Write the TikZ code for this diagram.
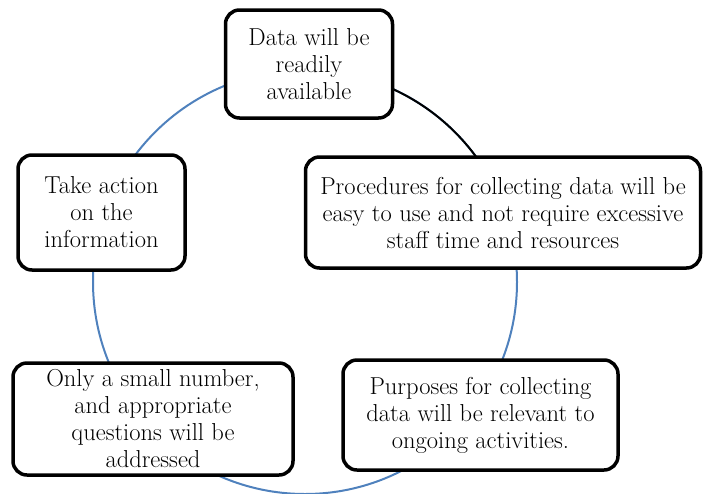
\documentclass[tikz,border=0pt]{standalone}
\usepackage{fontspec}
\definecolor{cycleblue}{HTML}{4F81BD}
\begin{document}
\begin{tikzpicture}[x=1pt,y=-1pt,
  stage/.style={draw=black, line width=3.5pt, rounded corners=14pt, fill=white,
    align=center, inner sep=0pt, font=\rmfamily\fontsize{24.5}{27}\selectfont},
  ring/.style={line width=2pt}]
\useasboundingbox (0,0) rectangle (706,493);
\coordinate (c) at (305,282);
\draw[ring, cycleblue] (c) circle (212pt);
\draw[ring, black] ([shift={(28:212pt)}]c) arc[start angle=28, end angle=74, radius=212pt];
\node[stage, minimum width=167pt, minimum height=108pt] (top) at (309,64) {Data will be\\readily\\available};
\node[stage, minimum width=167pt, minimum height=115pt] (left) at (101.5,212.5) {Take action\\on the\\information};
\node[stage, minimum width=395pt, minimum height=111pt] (right) at (503,212.5) {Procedures for collecting data will be\\easy to use and not require excessive\\staff time and resources};
\node[stage, minimum width=280pt, minimum height=112pt] (bl) at (153,419) {Only a small number,\\and appropriate\\questions will be\\addressed};
\node[stage, minimum width=275pt, minimum height=110pt] (br) at (480.5,415) {Purposes for collecting\\data will be relevant to\\ongoing activities.};
\end{tikzpicture}
\end{document}
